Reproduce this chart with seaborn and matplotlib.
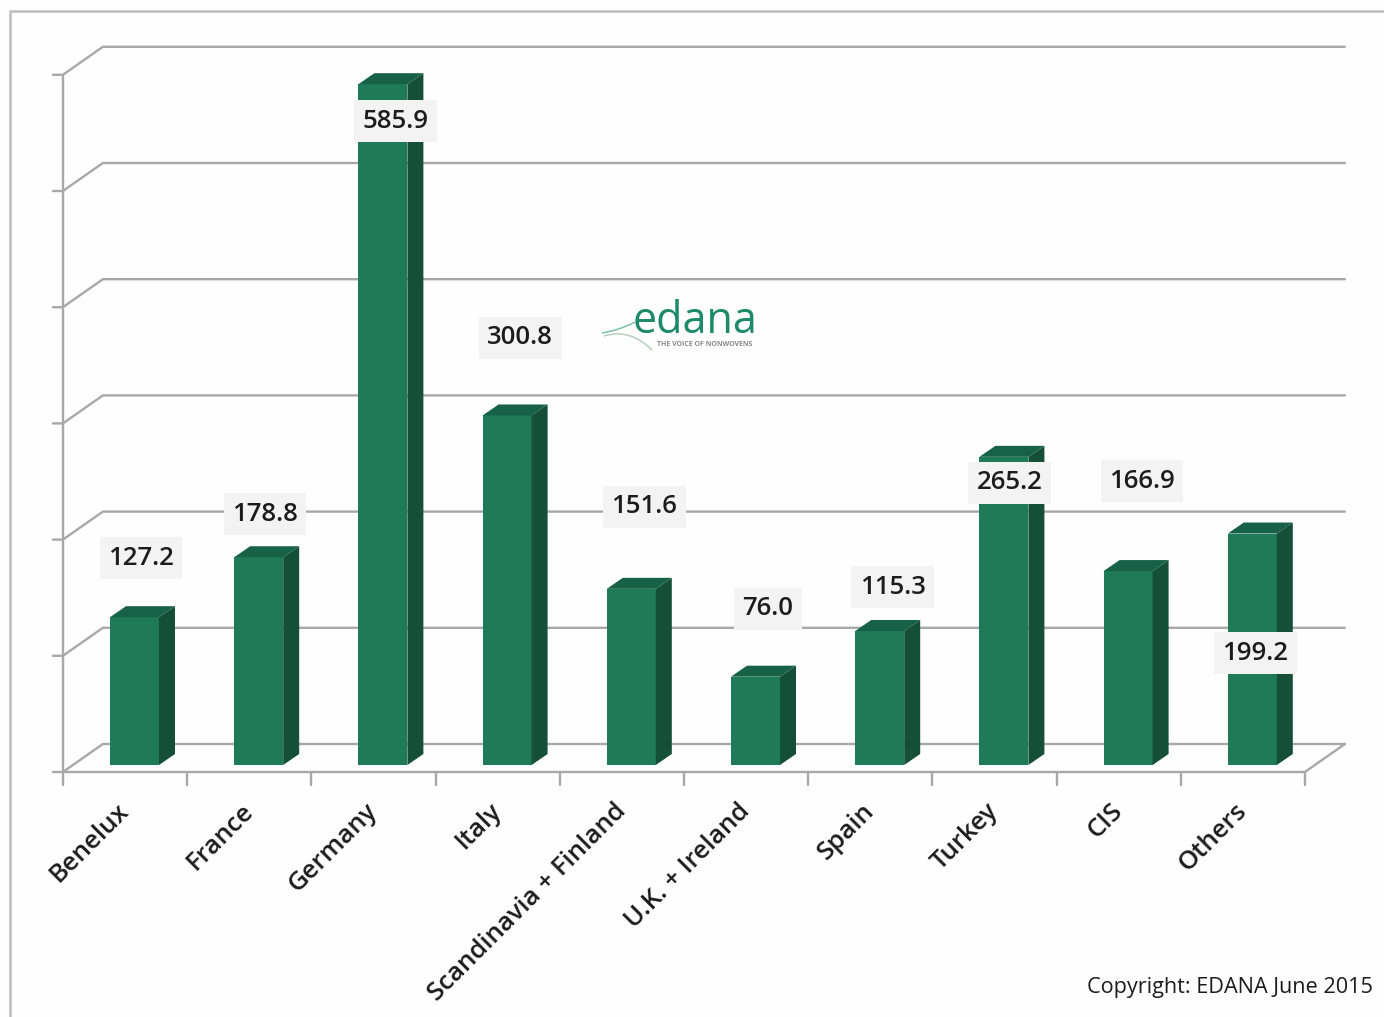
import pandas as pd
import seaborn as sns
import matplotlib.pyplot as plt
from matplotlib.patches import PathPatch, Polygon
from matplotlib.path import Path
from matplotlib.lines import Line2D
from matplotlib.transforms import ScaledTranslation

regions = ['Benelux', 'France', 'Germany', 'Italy', 'Scandinavia + Finland',
           'U.K. + Ireland', 'Spain', 'Turkey', 'CIS', 'Others']
values = [127.2, 178.8, 585.9, 300.8, 151.6, 76.0, 115.3, 265.2, 166.9, 199.2]
gridlines = [0, 100, 200, 300, 400, 500, 600]

# label position relative to the top of its bar, in pixels
label_dx = [6.5, 6.3, 13, 13, 13, 12.5, 13, 6, 14, 3]
label_dy = [59, 43, -37, 77.5, 82, 68, 44, -26, 90, -119.5]

W, H = 1384, 1017
SLOT = 124.2   # pixels per category
UNIT = 1.162   # pixels per value unit
FRONT, SIDE, TOP = '#1f7a5a', '#154f39', '#176148'
GRID = '#a8a8a8'
TEXT = '#1c1c1c'

sns.set_style('white')
plt.rcParams['font.family'] = ['Open Sans', 'DejaVu Sans']

df = pd.DataFrame({'region': regions, 'value': values})

fig = plt.figure(figsize=(W / 100, H / 100), dpi=100, facecolor='#fefefe')
# axes so that the floor of the bars is y=0 and each bar is centred on its slot
ax = fig.add_axes([72.4 / W, (H - 765) / H, SLOT * 10 / W, 610 * UNIT / H])
ax.set_facecolor('none')

sns.barplot(data=df, x='region', y='value', color=FRONT, saturation=1,
            width=49 / SLOT, linewidth=0, ax=ax, zorder=3)
ax.set_xlim(-0.5, 9.5)
ax.set_ylim(0, 610)
ax.set_xlabel('')
ax.set_ylabel('')
ax.set_yticks([])
sns.despine(ax=ax, left=True, bottom=True)

ax.set_xticks(range(len(regions)))
ax.set_xticklabels(regions, rotation=45, ha='right', rotation_mode='anchor',
                   fontsize=18.5, color=TEXT, fontweight='semibold')
ax.tick_params(axis='x', length=0, pad=24)
shift = ScaledTranslation(-18 / 100, 0, fig.dpi_scale_trans)
for lab in ax.get_xticklabels():
    lab.set_transform(lab.get_transform() + shift)

# pseudo 3D frame: the wall and floor sit a little in front of the bars
fx0 = -0.5 - 9.5 / SLOT
fx1 = fx0 + 10
fy = -7 / UNIT
wall_dx, wall_dy = 40 / SLOT, 28 / UNIT
tick_dx, tick_dy = 10 / SLOT, 13 / UNIT
line = dict(color=GRID, lw=1.7, zorder=1, clip_on=False, solid_capstyle='round')

for g in gridlines:
    y = g + fy
    ax.plot([fx0 - tick_dx, fx0, fx0 + wall_dx, fx1 + wall_dx],
            [y, y, y + wall_dy, y + wall_dy], **line)
ax.plot([fx0, fx0], [fy, gridlines[-1] + fy], **line)
ax.plot([fx0, fx1, fx1 + wall_dx], [fy, fy, fy + wall_dy], **line)
for i in range(len(regions) + 1):
    ax.plot([fx0 + i, fx0 + i], [fy, fy - tick_dy], **line)

# bar depth
depth_x, depth_y = 16 / SLOT, 11 / UNIT
for bar in ax.patches[:len(regions)]:
    x0 = bar.get_x()
    x1 = x0 + bar.get_width()
    h = bar.get_height()
    ax.add_patch(Polygon([(x1, 0), (x1 + depth_x, depth_y), (x1 + depth_x, h + depth_y), (x1, h)],
                         facecolor=SIDE, edgecolor='none', zorder=3, clip_on=False))
    ax.add_patch(Polygon([(x0, h), (x0 + depth_x, h + depth_y), (x1 + depth_x, h + depth_y), (x1, h)],
                         facecolor=TOP, edgecolor='none', zorder=3, clip_on=False))

for i, v in enumerate(values):
    ax.annotate(f'{v:.1f}', (i, v), xytext=(label_dx[i], label_dy[i]), textcoords='offset pixels',
                ha='center', va='center', fontsize=18.5, fontweight='semibold', color=TEXT, zorder=5,
                bbox=dict(boxstyle='square,pad=0.33', facecolor='#f3f3f3', edgecolor='none'))

# outer chart border, top and left only
fig.add_artist(Line2D([10 / W, 10 / W, 1], [0, 1 - 11 / H, 1 - 11 / H], color='#bdbdbd', lw=1.8))

# logo
fig.text(695 / W, 1 - 322 / H, 'edana', ha='center', va='center', fontsize=31, color='#1d8a68',
         fontweight='medium')
fig.text(705 / W, 1 - 345 / H, 'THE VOICE OF NONWOVENS', ha='center', va='center',
         fontsize=5, color='#8a8a8a', fontweight='bold')
swoosh = Path([(602 / W, 1 - 333 / H), (620 / W, 1 - 330 / H), (635 / W, 1 - 322 / H)],
              [Path.MOVETO, Path.CURVE3, Path.CURVE3])
swoosh2 = Path([(604 / W, 1 - 336 / H), (630 / W, 1 - 328 / H), (652 / W, 1 - 350 / H)],
               [Path.MOVETO, Path.CURVE3, Path.CURVE3])
fig.add_artist(PathPatch(swoosh, facecolor='none', edgecolor='#7fbfa5', lw=1.1, transform=fig.transFigure))
fig.add_artist(PathPatch(swoosh2, facecolor='none', edgecolor='#b5cfc0', lw=1.1, transform=fig.transFigure))

fig.text(1373 / W, 1 - 988 / H, 'Copyright: EDANA June 2015', ha='right', va='center',
         fontsize=15.6, color=TEXT)

fig.savefig('out.png', dpi=100, facecolor=fig.get_facecolor())
